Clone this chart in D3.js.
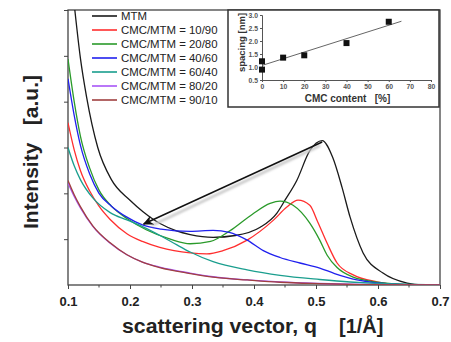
<!DOCTYPE html>
<html>
<head>
<meta charset="utf-8">
<script src="https://cdn.jsdelivr.net/npm/d3@7"></script>
<style>
  body { margin: 0; background: #fff; }
  svg { display: block; font-family: "Liberation Sans", Arial, sans-serif; }
</style>
</head>
<body>
<svg id="chart" width="451" height="342"></svg>
<script>
// --- data ---
const seriesNames = ["MTM", "CMC/MTM = 10/90", "CMC/MTM = 20/80", "CMC/MTM = 40/60",
  "CMC/MTM = 60/40", "CMC/MTM = 80/20", "CMC/MTM = 90/10"];
const seriesColors = ["#1a1a1a", "#ff2e2e", "#2a9a2a", "#2020ee", "#1a9e8e", "#a855f7", "#a04040"];

const qMTM = [0.111, 0.12, 0.13, 0.148, 0.17, 0.2, 0.221, 0.25, 0.275, 0.297, 0.334, 0.37, 0.41, 0.437, 0.45, 0.469, 0.49, 0.51, 0.527, 0.542, 0.555, 0.576, 0.608, 0.647, 0.67, 0.7];
const iMTM = [6.0, 4.95, 4.1, 3.0, 2.3, 1.85, 1.6, 1.33, 1.18, 1.1, 1.04, 1.08, 1.26, 1.57, 1.85, 2.28, 2.93, 3.15, 2.78, 2.13, 1.48, 0.7, 0.26, 0.04, 0, 0];

const q1090 = [0.1, 0.11, 0.12, 0.135, 0.15, 0.168, 0.195, 0.22, 0.248, 0.297, 0.324, 0.35, 0.389, 0.431, 0.453, 0.471, 0.49, 0.503, 0.518, 0.534, 0.56, 0.598, 0.635, 0.7];
const i1090 = [3.54, 2.95, 2.5, 2.05, 1.72, 1.43, 1.12, 0.95, 0.82, 0.7, 0.68, 0.75, 0.98, 1.41, 1.7, 1.85, 1.74, 1.37, 0.91, 0.48, 0.22, 0.07, 0.01, 0];

const q2080 = [0.1, 0.11, 0.12, 0.135, 0.15, 0.17, 0.195, 0.227, 0.265, 0.297, 0.33, 0.361, 0.398, 0.426, 0.442, 0.463, 0.49, 0.506, 0.518, 0.534, 0.56, 0.598, 0.652, 0.7];
const i2080 = [4.93, 4.0, 3.25, 2.55, 2.07, 1.72, 1.45, 1.2, 1.0, 0.9, 0.95, 1.18, 1.55, 1.78, 1.83, 1.74, 1.35, 0.98, 0.65, 0.38, 0.17, 0.065, 0.01, 0];

const q4060 = [0.1, 0.11, 0.12, 0.135, 0.15, 0.17, 0.195, 0.22, 0.25, 0.297, 0.334, 0.36, 0.389, 0.415, 0.442, 0.474, 0.506, 0.53, 0.566, 0.603, 0.65, 0.7];
const i4060 = [4.5, 3.7, 3.05, 2.42, 2.0, 1.72, 1.48, 1.31, 1.22, 1.17, 1.19, 1.15, 0.98, 0.75, 0.6, 0.48, 0.37, 0.25, 0.11, 0.04, 0.005, 0];

const q6040 = [0.1, 0.11, 0.12, 0.14, 0.168, 0.195, 0.221, 0.25, 0.275, 0.297, 0.334, 0.389, 0.442, 0.506, 0.555, 0.635, 0.7];
const i6040 = [3.0, 2.6, 2.3, 1.9, 1.58, 1.42, 1.27, 1.07, 0.88, 0.72, 0.51, 0.33, 0.21, 0.12, 0.065, 0.02, 0];

const q8020 = [0.1, 0.11, 0.12, 0.14, 0.168, 0.195, 0.22, 0.248, 0.297, 0.334, 0.389, 0.442, 0.506, 0.571, 0.7];
const i8020 = [2.22, 1.93, 1.68, 1.28, 0.91, 0.66, 0.5, 0.39, 0.26, 0.18, 0.11, 0.065, 0.033, 0.012, 0];

const q9010 = [0.1, 0.11, 0.12, 0.14, 0.168, 0.195, 0.22, 0.248, 0.297, 0.334, 0.389, 0.442, 0.506, 0.571, 0.7];
const i9010 = [2.28, 1.97, 1.71, 1.29, 0.92, 0.66, 0.5, 0.38, 0.25, 0.17, 0.11, 0.06, 0.03, 0.01, 0];

const xTicks = [0.1, 0.2, 0.3, 0.4, 0.5, 0.6, 0.7];
const xMinorTicks = [0.15, 0.25, 0.35, 0.45, 0.55, 0.65];
const yTicks = [1, 2, 3, 4, 5, 6];

// arrow annotation (from MTM peak to low-q shoulder)
const arrowFrom = [0.51, 3.12];
const arrowTo = [0.222, 1.33];

// inset: d-spacing vs CMC content
const cmcContent = [0, 0, 10, 20, 40, 60];
const spacingNm = [1.22, 0.9, 1.36, 1.45, 1.92, 2.74];
const fitX = [0, 66];
const fitY = [1.06, 2.76];
const insetXTicks = [0, 10, 20, 30, 40, 50, 60, 70, 80];
const insetYTicks = [0.5, 1.0, 1.5, 2.0, 2.5, 3.0];

const allQ = [qMTM, q1090, q2080, q4060, q6040, q8020, q9010];
const allI = [iMTM, i1090, i2080, i4060, i6040, i8020, i9010];
const series = seriesNames.map((name, k) => ({
  name, color: seriesColors[k],
  values: allQ[k].map((q, j) => ({ q, v: allI[k][j] }))
}));

// --- layout ---
const margin = { top: 10, right: 11, bottom: 57, left: 68 };
const width = 451, height = 342;
const svg = d3.select("#chart");

const x = d3.scaleLinear().domain([0.1, 0.7]).range([margin.left, width - margin.right]);
const y = d3.scaleLinear().domain([0, 6]).range([height - margin.bottom, margin.top]);

const defs = svg.append("defs");
defs.append("clipPath").attr("id", "plotClip")
  .append("rect")
  .attr("x", x(0.1)).attr("y", y(6))
  .attr("width", x(0.7) - x(0.1)).attr("height", y(0) - y(6));
defs.append("filter").attr("id", "soft")
  .append("feGaussianBlur").attr("stdDeviation", 1);

// Axes
const xAxis = svg.append("g")
  .attr("transform", `translate(0,${y(0)})`)
  .call(d3.axisBottom(x).tickValues(xTicks).tickSize(4).tickPadding(8).tickFormat(d3.format(".1f")));
xAxis.select(".domain").remove();
xAxis.selectAll("line").attr("stroke", "#444");
xAxis.selectAll("text").attr("font-size", 13).attr("font-weight", "bold").attr("fill", "#222")
  .attr("font-family", "Liberation Sans, Arial, sans-serif");

svg.append("g")
  .attr("transform", `translate(0,${y(0)})`)
  .selectAll("line").data(xMinorTicks).enter().append("line")
  .attr("x1", (d) => x(d)).attr("x2", (d) => x(d))
  .attr("y1", 0).attr("y2", 2.5)
  .attr("stroke", "#444");

const yAxis = svg.append("g")
  .attr("transform", `translate(${x(0.1)},0)`)
  .call(d3.axisLeft(y).tickValues(yTicks).tickSize(4).tickFormat(""));
yAxis.select(".domain").remove();
yAxis.selectAll("line").attr("stroke", "#444");

// Frame
svg.append("rect")
  .attr("x", x(0.1)).attr("y", y(6))
  .attr("width", x(0.7) - x(0.1)).attr("height", y(0) - y(6))
  .attr("fill", "none").attr("stroke", "#444").attr("stroke-width", 1.3);

// Curves
const line = d3.line()
  .x((d) => x(d.q))
  .y((d) => y(d.v))
  .curve(d3.curveMonotoneX);

svg.append("g").attr("clip-path", "url(#plotClip)")
  .selectAll("path")
  .data(series)
  .enter()
  .append("path")
  .attr("d", (d) => line(d.values))
  .attr("fill", "none")
  .attr("stroke", (d) => d.color)
  .attr("stroke-width", 1.3);

// Arrow (with soft shadow)
defs.append("marker")
  .attr("id", "arrowHead")
  .attr("viewBox", "0 0 10 10")
  .attr("refX", 9).attr("refY", 5)
  .attr("markerWidth", 7).attr("markerHeight", 7)
  .attr("markerUnits", "strokeWidth")
  .attr("orient", "auto")
  .append("path")
  .attr("d", "M0,0.5 L10,5 L0,9.5 L3,5 Z")
  .attr("fill", "#111");

svg.append("line")
  .attr("x1", x(arrowFrom[0]) - 2).attr("y1", y(arrowFrom[1]) + 3.5)
  .attr("x2", x(arrowTo[0]) + 8).attr("y2", y(arrowTo[1]) + 1.5)
  .attr("stroke", "#c8c8c8").attr("stroke-width", 2.5)
  .attr("filter", "url(#soft)");

svg.append("line")
  .attr("x1", x(arrowFrom[0])).attr("y1", y(arrowFrom[1]))
  .attr("x2", x(arrowTo[0])).attr("y2", y(arrowTo[1]))
  .attr("stroke", "#111").attr("stroke-width", 1.5)
  .attr("marker-end", "url(#arrowHead)");

// Legend
const legend = svg.append("g").attr("transform", "translate(92,16)");
const rows = legend.selectAll("g").data(series).enter().append("g")
  .attr("transform", (d, i) => `translate(0,${i * 14})`);
rows.append("line").attr("x1", 0).attr("x2", 25).attr("y1", 0).attr("y2", 0)
  .attr("stroke", (d) => d.color).attr("stroke-width", 1.6);
rows.append("text").attr("x", 29).attr("y", 4.2)
  .attr("font-size", 11.4).attr("fill", "#222")
  .text((d) => d.name);

// Axis titles
svg.append("text")
  .attr("transform", `translate(38,152) rotate(-90)`)
  .attr("text-anchor", "middle")
  .attr("font-size", 21).attr("font-weight", "bold").attr("fill", "#222")
  .style("white-space", "pre")
  .text("Intensity   [a.u.]");

svg.append("text")
  .attr("x", 122).attr("y", 333)
  .attr("font-size", 20).attr("font-weight", "bold").attr("fill", "#222")
  .attr("textLength", 195).attr("lengthAdjust", "spacingAndGlyphs")
  .text("scattering vector, q");
svg.append("text")
  .attr("x", 339).attr("y", 333)
  .attr("font-size", 20).attr("font-weight", "bold").attr("fill", "#222")
  .text("[1/Å]");

// --- inset ---
const inset = svg.append("g");
inset.append("rect")
  .attr("x", 228).attr("y", 10).attr("width", 211).attr("height", 97)
  .attr("fill", "#fff").attr("stroke", "#333").attr("stroke-width", 1.5);

const ix = d3.scaleLinear().domain([0, 80]).range([262, 431]);
const iy = d3.scaleLinear().domain([0.5, 3.0]).range([80, 15]);

const ixAxis = inset.append("g").attr("transform", `translate(0,${iy(0.5)})`)
  .call(d3.axisBottom(ix).tickValues(insetXTicks).tickSize(2).tickPadding(2));
const iyAxis = inset.append("g").attr("transform", `translate(${ix(0)},0)`)
  .call(d3.axisLeft(iy).tickValues(insetYTicks).tickSize(2).tickPadding(2).tickFormat(d3.format(".1f")));
[ixAxis, iyAxis].forEach((a) => {
  a.select(".domain").attr("stroke", "#555");
  a.selectAll("line").attr("stroke", "#555");
  a.selectAll("text").attr("font-size", 6.8).attr("font-weight", "bold").attr("fill", "#555")
    .attr("font-family", "Liberation Sans, Arial, sans-serif");
});

inset.append("line")
  .attr("x1", ix(fitX[0])).attr("y1", iy(fitY[0]))
  .attr("x2", ix(fitX[1])).attr("y2", iy(fitY[1]))
  .attr("stroke", "#666").attr("stroke-width", 1);

inset.selectAll("rect.pt")
  .data(cmcContent.map((c, i) => ({ c, s: spacingNm[i] })))
  .enter().append("rect")
  .attr("class", "pt")
  .attr("x", (d) => ix(d.c) - 3).attr("y", (d) => iy(d.s) - 3)
  .attr("width", 6).attr("height", 6)
  .attr("fill", "#111");

inset.append("text")
  .attr("transform", "translate(245,42.5) rotate(-90)")
  .attr("text-anchor", "middle")
  .attr("font-size", 9.5).attr("font-weight", "bold").attr("fill", "#333")
  .text("spacing [nm]");

inset.append("text")
  .attr("x", 347.5).attr("y", 102)
  .attr("text-anchor", "middle")
  .attr("font-size", 10).attr("font-weight", "bold").attr("fill", "#333")
  .style("white-space", "pre")
  .text("CMC content   [%]");
</script>
</body>
</html>
